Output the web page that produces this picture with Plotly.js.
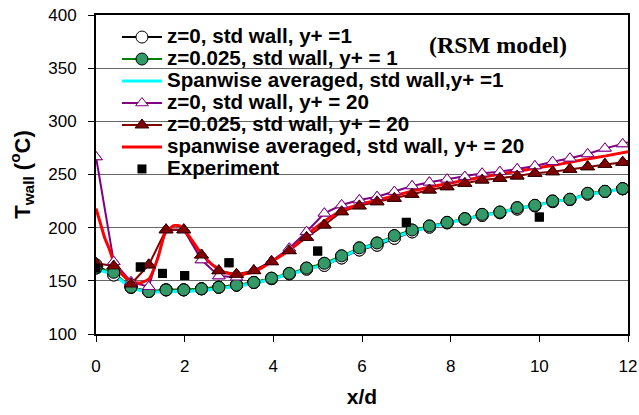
<!DOCTYPE html>
<html>
<head>
<meta charset="utf-8">
<script src="https://cdn.plot.ly/plotly-3.0.1.min.js"></script>
<style>html,body{margin:0;padding:0;background:#fff;}#chart{width:639px;height:415px;}</style>
</head>
<body>
<div id="chart"></div>
<script>
// x/d stations of the computed profiles
const xSim = [0, 0.4, 0.79, 1.19, 1.58, 1.98, 2.38, 2.77, 3.17, 3.56, 3.96, 4.36, 4.75, 5.15, 5.54, 5.94,
  6.34, 6.73, 7.13, 7.52, 7.92, 8.32, 8.71, 9.11, 9.5, 9.9, 10.3, 10.69, 11.09, 11.48, 11.88, 12.28];
// z=0, std wall, y+=1
const tZ0Y1 = [165, 155.5, 144, 140, 141.5, 141.5, 142.5, 144, 146, 148.5, 152, 156.5, 161, 164.5, 171.5, 179,
  183.5, 190, 196, 200.5, 204.5, 208, 211.5, 214, 217.5, 220.5, 224.5, 226.5, 231.5, 234, 236.5, 239];
// z=0.025, std wall, y+=1
const tZ025Y1 = [162, 158, 144, 140, 141.5, 141.5, 142.5, 144, 146, 148.5, 152.5, 157, 162, 166.5, 173.5, 181,
  185.6, 192.5, 197.8, 201.6, 205, 208.5, 212.5, 214.7, 218.8, 221, 225.1, 226.7, 232.3, 234.2, 236.7, 239.5];
// spanwise averaged, std wall, y+=1
const tSpanY1 = [161, 156, 143, 139, 140, 140, 141, 142.5, 145, 147.5, 151.5, 156, 161, 165, 172, 180,
  184.5, 191, 196.5, 200.5, 204.5, 208, 211.5, 214, 218, 220.5, 224.5, 226.5, 231, 234, 236.5, 241];
// z=0, std wall, y+=20
const tZ0Y20 = [266.5, 168, 149, 144.5, 198, 198, 169.6, 154.5, 153.4, 159.6, 168.5, 180.6, 196.2, 213.5, 221.3, 226,
  229.1, 233.9, 239.2, 242.7, 245.5, 248, 251.1, 252.6, 255.2, 258, 262, 265.2, 269.3, 274.6, 278.7, 284];
// z=0.025, std wall, y+=20
const tZ025Y20 = [166.5, 164, 147, 165, 198, 198, 174.3, 159.5, 156.1, 159.6, 168, 178.4, 190.9, 202.5, 215, 220.5,
  224.4, 227.6, 231.4, 235.4, 238.5, 241.7, 244.8, 246.4, 248.6, 251.1, 252.6, 254.9, 257.3, 259.6, 261.5, 266];
// spanwise averaged, std wall, y+=20
const xSpanY20 = [0, 0.1, 0.2, 0.3, 0.4, 0.6, 0.8, 1.0, 1.2, 1.4, 1.55, 1.75, 1.9, 2.1, 2.35, 2.6, 2.9, 3.2, 3.6,
  4.0, 4.4, 4.75, 5.15, 5.55, 5.95, 6.5, 7, 7.5, 8, 8.5, 9, 9.5, 10, 10.5, 11, 11.5, 12];
const tSpanY20 = [218, 204, 190, 180, 168, 156, 149, 148, 152, 172, 194, 202, 201.5, 192, 177, 166, 158, 155.5, 159,
  169, 180, 193, 206, 216, 222, 227.5, 233, 238, 242, 246, 249.5, 253, 256.5, 260, 264, 267.5, 271.5];
// experiment
const xExp = [0, 1, 1.5, 2, 3, 5, 7, 10];
const tExp = [162, 163, 157, 155, 167, 178, 205, 210];

const names = ['z=0, std wall, y+ =1', 'z=0.025, std wall, y+ = 1', 'Spanwise averaged, std wall,y+ =1',
  'z=0, std wall, y+ = 20', 'z=0.025, std wall, y+ = 20', 'spanwise averaged, std wall, y+ = 20', 'Experiment'];
const lg = s => '<span style="font-size:20.6px">' + s + '</span>';

const mWhite = {symbol: 'circle', size: 12, color: '#ffffff', line: {color: '#000000', width: 1}};
const mGreen = {symbol: 'circle', size: 12, color: '#339966', line: {color: '#000000', width: 1}};
const mPurple = {symbol: 'triangle-up', size: 11, color: '#ffffff', line: {color: '#800080', width: 1}};
const mDark = {symbol: 'triangle-up', size: 12, color: '#800000', line: {color: '#300000', width: 1}};

const traces = [
  {x: xSim, y: tZ0Y1, name: lg(names[0]), mode: 'lines+markers', line: {color: '#000000', width: 2}, marker: mWhite},
  {x: xSim, y: tZ025Y1, name: lg(names[1]), mode: 'lines+markers', line: {color: '#008000', width: 2}, marker: mGreen},
  {x: xSim, y: tSpanY1, name: lg(names[2]), mode: 'lines', line: {color: '#00ffff', width: 3}},
  {x: xSim, y: tZ0Y20, name: lg(names[3]), mode: 'lines+markers', line: {color: '#800080', width: 2}, marker: mPurple},
  {x: xSim, y: tZ025Y20, name: lg(names[4]), mode: 'lines+markers', line: {color: '#800000', width: 2}, marker: mDark},
  {x: xSpanY20, y: tSpanY20, name: lg(names[5]), mode: 'lines', line: {color: '#ff0000', width: 3, shape: 'spline', smoothing: 0.5}},
  {x: xExp, y: tExp, name: lg(names[6]), mode: 'markers', marker: {symbol: 'square', size: 9, color: '#000000'}},
  // marker overlays (markers drawn above all lines)
  {x: xSim, y: tZ0Y1, mode: 'markers', marker: mWhite, showlegend: false, hoverinfo: 'skip'},
  {x: xSim, y: tZ025Y1, mode: 'markers', marker: mGreen, showlegend: false, hoverinfo: 'skip'},
  {x: xSim, y: tZ0Y20, mode: 'markers', marker: mPurple, showlegend: false, hoverinfo: 'skip'},
  {x: xSim, y: tZ025Y20, mode: 'markers', marker: mDark, showlegend: false, hoverinfo: 'skip'},
  {x: xExp, y: tExp, mode: 'markers', marker: {symbol: 'square', size: 9, color: '#000000'}, showlegend: false, hoverinfo: 'skip'}
];

const font = 'Arial, "Liberation Sans", sans-serif';
const layout = {
  width: 639, height: 415,
  margin: {l: 96, r: 11, t: 15, b: 81},
  paper_bgcolor: '#ffffff', plot_bgcolor: '#ffffff',
  font: {family: font, color: '#000000', size: 17},
  showlegend: true,
  legend: {
    x: 0.0394, y: 0.981, xanchor: 'left', yanchor: 'top',
    bgcolor: 'rgba(0,0,0,0)', borderwidth: 0,
    font: {family: font, size: 14.6, color: '#000000', weight: 'bold'},
    itemwidth: 40, tracegroupgap: 0
  },
  shapes: [{
    type: 'rect', xref: 'paper', yref: 'paper', x0: 0.030, x1: 0.835, y0: 0.508, y1: 0.984,
    fillcolor: '#ffffff', line: {width: 0}, layer: 'between'
  }],
  xaxis: {
    range: [0, 12], dtick: 2, tick0: 0,
    showline: true, mirror: true, linecolor: '#000000', linewidth: 2,
    ticks: 'outside', ticklen: 6, tickwidth: 1, tickcolor: '#000000',
    showgrid: false, zeroline: false,
    tickfont: {family: font, size: 17, color: '#000000'},
    ticklabelstandoff: 10,
    title: {text: '<b>x/d</b>', font: {family: font, size: 21, color: '#000000'}, standoff: 14}
  },
  yaxis: {
    range: [100, 400], dtick: 50, tick0: 100,
    showline: true, mirror: true, linecolor: '#000000', linewidth: 2,
    ticks: 'outside', ticklen: 6, tickwidth: 1, tickcolor: '#000000',
    showgrid: true, gridcolor: '#666666', gridwidth: 1, zeroline: false,
    tickfont: {family: font, size: 17, color: '#000000'},
    ticklabelstandoff: 8,
    title: {text: '<b>T<sub>wall</sub> (<sup>o</sup>C)</b>', font: {family: font, size: 22, color: '#000000'}, standoff: 12}
  },
  annotations: [{
    text: '<b>(RSM model)</b>', xref: 'paper', yref: 'paper', x: 0.756, y: 0.906,
    xanchor: 'center', yanchor: 'middle', showarrow: false,
    font: {family: '"Times New Roman", "Liberation Serif", serif', size: 24, color: '#000000'}
  }]
};

Plotly.newPlot('chart', traces, layout, {displayModeBar: false, staticPlot: true});
</script>
</body>
</html>
